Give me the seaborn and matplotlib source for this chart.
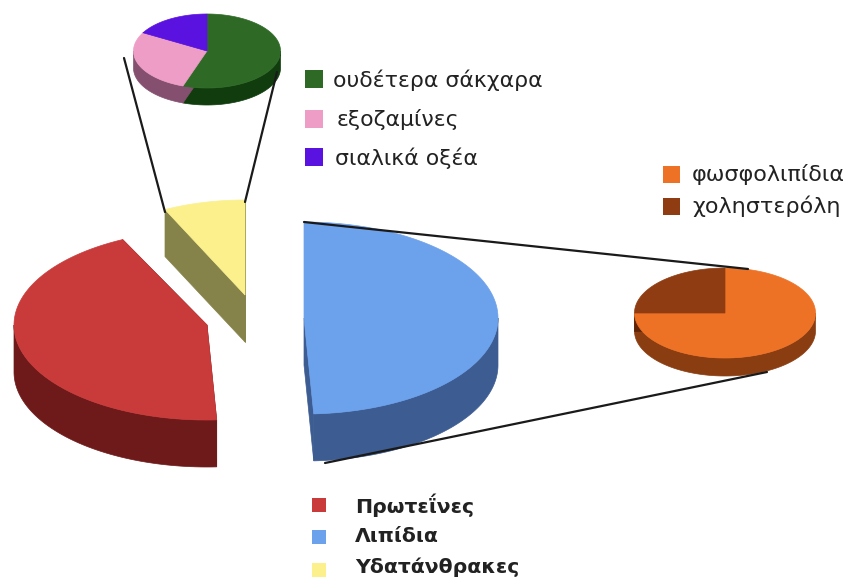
import numpy as np
import matplotlib
matplotlib.use("Agg")
import matplotlib.pyplot as plt
from matplotlib.patches import Polygon, Rectangle
import seaborn as sns

# Shares of each pie, in percent
main_labels = ["Πρωτεΐνες", "Λιπίδια", "Υδατάνθρακες"]
main_shares = [43.6, 49.2, 7.2]
sugar_labels = ["ουδέτερα σάκχαρα", "εξοζαμίνες", "σιαλικά οξέα"]
sugar_shares = [55.3, 27.9, 16.8]
lipid_labels = ["φωσφολιπίδια", "χοληστερόλη"]
lipid_shares = [75.0, 25.0]

# Top and side colours per slice
main_top = ["#C93B3A", "#6CA1EC", "#FBF08C"]
main_side = ["#6E1A1A", "#3C5C92", "#85824A"]
sugar_top = ["#2E6A26", "#EE9EC6", "#5A12E0"]
sugar_side = ["#113D0E", "#855070", "#35107F"]
lipid_top = ["#EE7226", "#8F3C12"]
lipid_side = ["#8A3D10", "#5E2408"]

sns.set_theme(style="white")
plt.rcParams["font.family"] = ["DejaVu Sans"]

fig = plt.figure(figsize=(8.53, 5.79), dpi=100)
ax = fig.add_axes([0, 0, 1, 1])
ax.set_xlim(0, 853)
ax.set_ylim(579, 0)
ax.axis("off")


def rim(c, rx, ry, a0, a1, n=120):
    t = np.radians(np.linspace(a0, a1, n))
    return np.column_stack([c[0] + rx * np.cos(t), c[1] - ry * np.sin(t)])


def slice3d(c, rx, ry, depth, a0, a1, top, side, z=2):
    """One pie slice in oblique view, running counter-clockwise from a0 to a1."""
    drop = np.array([0, depth])
    c = np.array(c, float)
    # cut faces
    for a in (a0, a1):
        p = rim(c, rx, ry, a, a, 1)[0]
        ax.add_patch(Polygon([c, p, p + drop, c + drop], fc=side, ec=side, lw=0.5, zorder=z))
    # outer wall on the near half
    for k in (-1, 0, 1):
        lo, hi = max(a0, 180 + 360 * k), min(a1, 360 + 360 * k)
        if hi > lo:
            arc = rim(c, rx, ry, lo, hi)
            ax.add_patch(Polygon(np.vstack([arc, (arc + drop)[::-1]]), fc=side, ec=side, lw=0.5, zorder=z))
    ax.add_patch(Polygon(np.vstack([[c], rim(c, rx, ry, a0, a1)]), fc=top, ec=top, lw=0.5, zorder=z + 0.5))


def key(x, y, size, color, label, tx, ty, tsize, weight="normal"):
    ax.add_patch(Rectangle((x, y - size / 2), size, size, fc=color, ec="none"))
    ax.text(tx, ty, label, fontsize=tsize, fontweight=weight, color="#222222", va="center", ha="left")


# Main pie: slices are pulled apart, each with its own centre and width
carb_deg, protein_deg, lipid_deg = [s * 3.6 for s in (main_shares[2], main_shares[0], main_shares[1])]
slice3d((304, 318), 194, 96, 47, 450 - lipid_deg, 450, main_top[1], main_side[1])
slice3d((207, 325), 193, 95, 47, 90 + carb_deg, 90 + carb_deg + protein_deg, main_top[0], main_side[0])
slice3d((245, 295), 183, 95, 47, 90, 90 + carb_deg, main_top[2], main_side[2])

# Breakdown of carbohydrates
a = 450.0
for share, top, side in zip(sugar_shares, sugar_top, sugar_side):
    slice3d((207, 51), 73.5, 37, 17, a - share * 3.6, a, top, side)
    a -= share * 3.6

# Breakdown of lipids
a = 450.0
for share, top, side in zip(lipid_shares, lipid_top, lipid_side):
    slice3d((725, 313), 90.5, 45, 18, a - share * 3.6, a, top, side)
    a -= share * 3.6

# Leader lines joining slices to their breakdowns
for xs, ys in [((124, 165), (58, 212)), ((277, 245), (72, 202)),
               ((304, 748), (222, 269)), ((325, 767), (463, 372))]:
    ax.plot(xs, ys, color="#1a1a1a", lw=1.6, zorder=4, solid_capstyle="round")

for y, c, lab, tx in zip((79, 118.5, 157), sugar_top, sugar_labels, (333, 337, 335)):
    key(305, y, 18, c, lab, tx, y + 1, 15.8)
for y, c, lab in zip((174.5, 206), lipid_top, lipid_labels):
    key(663, y, 17, c, lab, 692, y, 16)
for y, ty, c, lab in zip((505, 537, 570), (505, 537, 567), main_top, main_labels):
    key(312, y, 14, c, lab, 355, ty, 14.7, "bold")

fig.savefig("out.png", dpi=100)
